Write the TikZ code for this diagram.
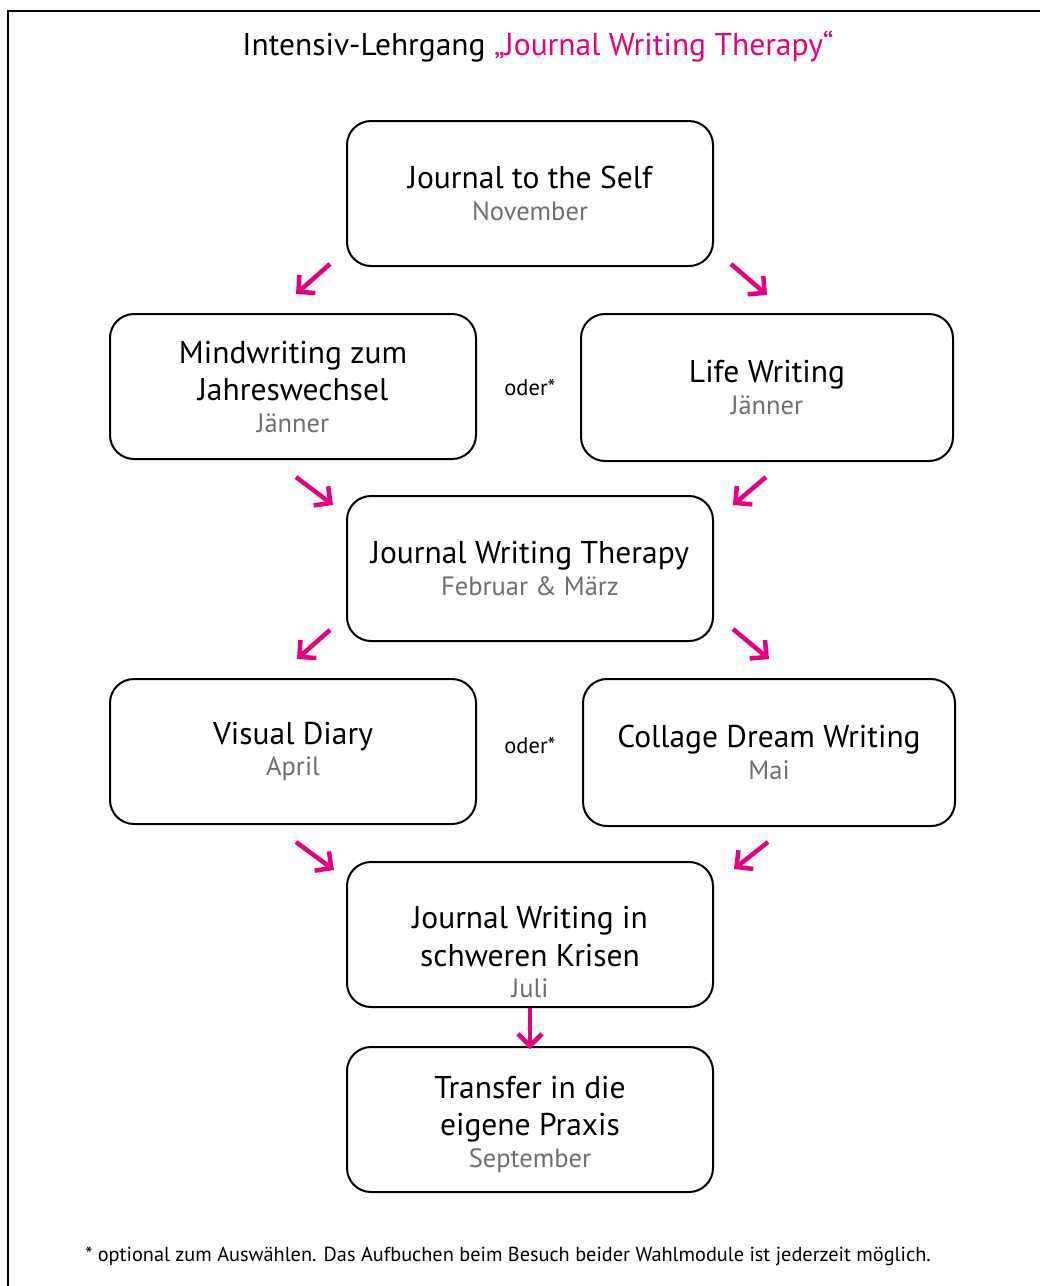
\documentclass[tikz,border=0pt]{standalone}
\usepackage{fontspec}
\setmainfont{PT Sans}
\usetikzlibrary{arrows.meta}
\definecolor{hot}{HTML}{E6007E}
\definecolor{sub}{HTML}{6E6E6E}
\newcommand{\subt}[1]{{\color{sub}\fontsize{26.5}{30}\selectfont #1}}
\begin{document}
\begin{tikzpicture}[x=1pt,y=-1pt,
  box/.style={draw=black,line width=2pt,rounded corners=24pt,minimum width=366pt,minimum height=145pt,align=center,inner sep=0pt,font=\fontsize{31.5}{37.5}\selectfont},
  wbox/.style={box,minimum width=372pt,minimum height=147pt},
  txt/.style={align=center,inner sep=0pt,font=\fontsize{31.5}{37.5}\selectfont},
  arr/.style={draw=hot,line width=4.5pt,-{Straight Barb[length=12pt,width=24pt]}},
  oder/.style={font=\fontsize{22.5}{24}\selectfont,inner sep=0pt}]
\useasboundingbox (0,0) rectangle (1040,1286);
\draw[line width=2pt] (8,1286) -- (8,11) -- (1040,11);

\node[anchor=base,inner sep=0pt,font=\fontsize{31.5}{34}\selectfont] (title) at (538,55) {Intensiv-Lehrgang {\color{hot}„Journal Writing Therapy“}};

\node[box] (b1) at (530,193.5) {Journal to the Self\\[-6pt]\subt{November}};
\node[box] (b2) at (293,386.5) {Mindwriting zum\\Jahreswechsel\\[-6pt]\subt{Jänner}};
\node[wbox] (b3) at (767,387.5) {Life Writing\\[-6pt]\subt{Jänner}};
\node[box] (b4) at (530,568.5) {Journal Writing Therapy\\[-6pt]\subt{Februar \& März}};
\node[box] (b5) at (293,751.5) {Visual Diary\\[-6pt]\subt{April}};
\node[wbox] (b6) at (769,752.5) {Collage Dream Writing\\[-6pt]\subt{Mai}};
\node[box] (b7) at (530,934.5) {};
\node[txt] (b7t) at (530,952) {Journal Writing in\\schweren Krisen\\[-6pt]\subt{Juli}};
\node[box] (b8) at (530,1119.5) {};
\node[txt] (b8t) at (530,1124) {Transfer in die\\eigene Praxis\\[-6pt]\subt{September}};

\node[oder] (o1) at (530,388) {oder*};
\node[oder] (o2) at (530,746) {oder*};

\coordinate (a1s) at (330,264); \coordinate (a1e) at (296,294);
\coordinate (a2s) at (731,264); \coordinate (a2e) at (767,295);
\coordinate (a3s) at (296,477); \coordinate (a3e) at (333,505);
\coordinate (a4s) at (766,477); \coordinate (a4e) at (733,505);
\coordinate (a5s) at (330,630); \coordinate (a5e) at (297,659);
\coordinate (a6s) at (733,629); \coordinate (a6e) at (769,659);
\coordinate (a7s) at (296,842); \coordinate (a7e) at (334,870);
\coordinate (a8s) at (768,842); \coordinate (a8e) at (734,869);
\draw[arr] (a1s) -- (a1e);
\draw[arr] (a2s) -- (a2e);
\draw[arr] (a3s) -- (a3e);
\draw[arr] (a4s) -- (a4e);
\draw[arr] (a5s) -- (a5e);
\draw[arr] (a6s) -- (a6e);
\draw[arr] (a7s) -- (a7e);
\draw[arr] (a8s) -- (a8e);
\draw[arr] (b7.south) -- ([yshift=-3pt]b8.north);

\node[anchor=base,inner sep=0pt,font=\fontsize{20.3}{22}\selectfont] (foot) at (508,1261) {* optional zum Auswählen. Das Aufbuchen beim Besuch beider Wahlmodule ist jederzeit möglich.};
\end{tikzpicture}
\end{document}
